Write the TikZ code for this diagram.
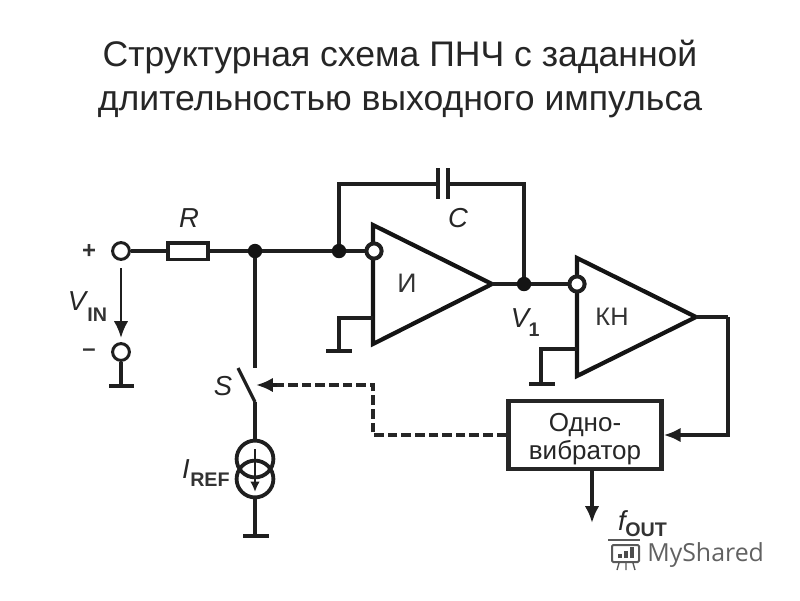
\documentclass[tikz,border=0pt]{standalone}
\usepackage{fontspec}
\setmainfont{Liberation Sans}
\newfontfamily\markfont{Open Sans}
\usetikzlibrary{arrows.meta}
\tikzset{
	wire/.style={line width=0.8mm, color=black!88},
	thinwire/.style={line width=0.65mm, color=black!88},
	amp/.style={line width=1.05mm, color=black!92, line join=miter},
	term/.style={circle, draw=black!88, line width=0.75mm, fill=white, minimum size=0.42cm, inner sep=0},
	invdot/.style={circle, draw=black!88, line width=1.0mm, fill=white, minimum size=0.38cm, inner sep=0},
	junc/.style={circle, fill=black!92, minimum size=0.36cm, inner sep=0},
	source/.style={circle, draw=black!88, line width=0.95mm, minimum size=0.92cm, inner sep=0},
	gndbar/.style={line width=1.1mm, color=black!88},
	lbl/.style={font=\fontsize{19.5}{21}\selectfont\itshape, color=black!85, inner sep=0},
	subl/.style={font=\fontsize{14}{16}\selectfont, color=black!80, inner sep=0},
	tip/.style={-{Latex[length=0.42cm, width=0.36cm]}},
	sigline/.style={line width=0.85mm, dash pattern=on 2.4mm off 1mm, color=black!85}
}
\begin{document}
\begin{tikzpicture}[x=0.025cm, y=-0.025cm]
	\useasboundingbox (0,0) rectangle (800,600);
	%%%%% title %%%%%
	\node[font=\fontsize{25.3}{31.5}\selectfont, color=black!85, align=center] (title) at (400,79) {Структурная схема ПНЧ с заданной\\длительностью выходного импульса};

	%%%%% input %%%%%
	\node[term] (vinp) at (121,251) {};
	\node[term] (vinm) at (121,352) {};
	\node[subl] (plus) at (89,251) {\fontsize{17}{18}\selectfont\bfseries +};
	\node[subl] (minus) at (89,353) {\fontsize{17}{18}\selectfont\bfseries –};
	\node[draw=black!88, line width=0.95mm, fill=white, minimum width=0.98cm, minimum height=0.42cm, inner sep=0] (res) at (188,251) {};
	\node[lbl] (labR) at (189,218) {R};
	\node[junc] (jS) at (255,251) {};
	\node[junc] (jC) at (339,251) {};
	\coordinate (invAc) at (374,251);
	\draw[wire] (vinp) -- (res);
	\draw[wire] (res) -- (jS);
	\draw[wire] (jS) -- (jC);
	\draw[wire] (jC) -- (invAc);
	\coordinate (vtop) at (121,268);
	\coordinate (vbot) at (121,338);
	\draw[thinwire, tip] (vtop) -- (vbot);
	\node[lbl] (labV) at (77,301) {V};
	\node[subl, anchor=west] (labIN) at (87,315) {\bfseries IN};
	\coordinate (gV) at (121,386);
	\draw[wire] (vinm) -- (gV);
	\draw[gndbar] (109,386) -- (134,386);

	%%%%% integrator %%%%%
	\draw[amp] (373,225) -- (492,284) -- (373,344) -- cycle;
	\node[invdot] (invA) at (374,251) {};
	\node[subl] (labI) at (407,283) {\fontsize{19}{20}\selectfont И};
	\coordinate (capl) at (438,184);
	\coordinate (capr) at (448,184);
	\node[junc] (jV) at (524,284) {};
	\draw[wire] (jC) |- (capl);
	\draw[wire] (jV) |- (capr);
	\draw[line width=1.1mm, color=black!88] (438,168) -- (438,199);
	\draw[line width=1.1mm, color=black!88] (448,168) -- (448,199);
	\node[lbl] (labC) at (458,218) {C};
	\coordinate (outA) at (492,284);
	\coordinate (gndA) at (339,351);
	\coordinate (inA) at (373,318);
	\draw[wire] (inA) -| (gndA);
	\draw[gndbar] (326,351) -- (352,351);
	\node[lbl] (labV1) at (520,318) {V};
	\node[subl] (labV1s) at (534,330) {\bfseries 1};

	%%%%% comparator %%%%%
	\draw[amp] (577,258) -- (696,317) -- (577,376) -- cycle;
	\draw[wire] (outA) -- (jV);
	\coordinate (invBc) at (577,284);
	\draw[wire] (jV) -- (invBc);
	\node[invdot] (invB) at (577,284) {};
	\node[subl] (labK) at (612,317) {\fontsize{18}{20}\selectfont КН};
	\coordinate (inB) at (577,349);
	\coordinate (gndB) at (541,384);
	\draw[wire] (inB) -| (gndB);
	\draw[gndbar] (529,384) -- (555,384);

	%%%%% one-shot %%%%%
	\node[draw=black!90, line width=1.15mm, minimum width=3.82cm, minimum height=1.7cm, inner sep=0, align=center, font=\fontsize{18.5}{20}\selectfont, color=black!85] (mono) at (585,435) {\rule{0pt}{19pt}Одно-\\вибратор};
	\coordinate (outB) at (696,317);
	\coordinate (corner) at (728,317);
	\draw[wire] (outB) -- (corner);
	\draw[wire, tip] (corner) |- (mono.east);
	\coordinate (foutA) at (592,470);
	\coordinate (foutB) at (592,523);
	\draw[wire, tip] (foutA) -- (foutB);
	\node[lbl] (labf) at (622,521) {f};
	\node[subl, anchor=west] (labOUT) at (625,530) {\bfseries OUT};

	%%%%% switch and source %%%%%
	\coordinate (swtop) at (255,368);
	\coordinate (swbot) at (255,402);
	\coordinate (swend) at (238,368);
	\node[source] (srcup) at (255,459) {};
	\node[source] (srcdn) at (255,479) {};
	\draw[wire] (jS) -- (swtop);
	\draw[wire] (swend) -- (swbot);
	\draw[wire] (swbot) -- (srcup);
	\coordinate (srctop) at (255,449);
	\coordinate (srcbot) at (255,492);
	\draw[thinwire, -{Latex[length=0.26cm, width=0.24cm]}] (srctop) -- (srcbot);
	\coordinate (gS) at (255,536);
	\draw[wire] (srcdn) -- (gS);
	\draw[gndbar] (243,536) -- (269,536);
	\node[lbl] (labS) at (223,386) {S};
	\node[lbl] (labIr) at (186,469) {I};
	\node[subl, anchor=west] (labREF) at (190,480) {\bfseries REF};

	%%%%% dashed control %%%%%
	\coordinate (ctrl) at (373,385);
	\coordinate (swtip) at (256,385);
	\coordinate (ctrlb) at (373,435);
	\draw[sigline] (mono.west) -- (ctrlb) -- (ctrl) -- (275,385);
	\coordinate (tail) at (277,385);
	\draw[wire, tip, solid] (tail) -- (swtip);

	%%%%% mark %%%%%
	\node[font=\fontsize{17.7}{18}\selectfont\markfont, color=black!62, anchor=west, inner sep=0] (mark) at (647,555) {MyShared};
	\draw[line width=0.5mm, color=black!65, rounded corners=0.3mm] (612,545) rectangle (639,562);
	\draw[line width=0.6mm, color=black!65] (608,540) -- (640,540);
	\foreach \xb/\hb in {620/4,626/7,632/11}
		\draw[line width=0.8mm, color=black!70] (\xb,558) -- ++(0,-\hb);
	\draw[line width=0.35mm, color=black!65] (619,563) -- (617,570) (626,563) -- (626,570) (633,563) -- (635,570);
\end{tikzpicture}
\end{document}
